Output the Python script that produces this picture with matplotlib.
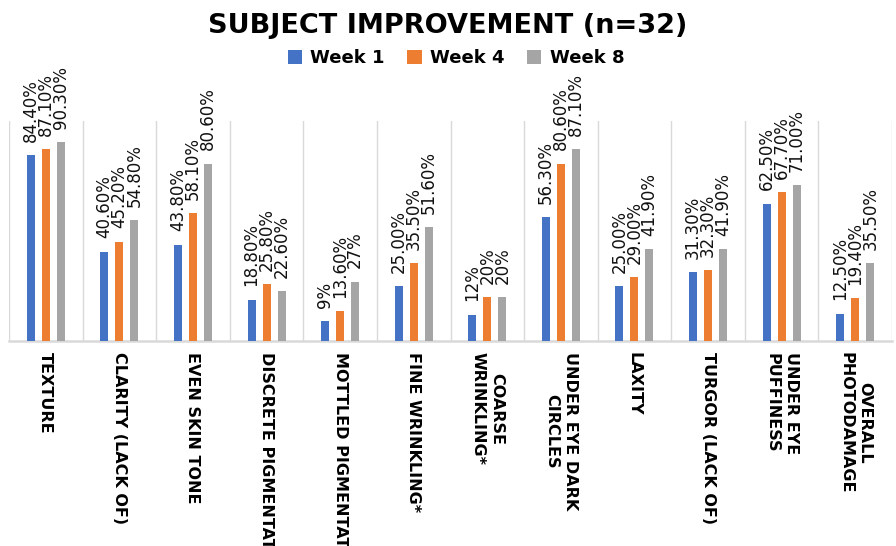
import numpy as np
import matplotlib.pyplot as plt

categories = [
    "TEXTURE", "CLARITY (LACK OF)", "EVEN SKIN TONE", "DISCRETE PIGMENTATION",
    "MOTTLED PIGMENTATION", "FINE WRINKLING*", "COARSE\nWRINKLING*",
    "UNDER EYE DARK\nCIRCLES", "LAXITY", "TURGOR (LACK OF)",
    "UNDER EYE\nPUFFINESS", "OVERALL\nPHOTODAMAGE",
]
week1 = [84.4, 40.6, 43.8, 18.8, 9, 25.0, 12, 56.3, 25.0, 31.3, 62.5, 12.5]
week4 = [87.1, 45.2, 58.1, 25.8, 13.6, 35.5, 20, 80.6, 29.0, 32.3, 67.7, 19.4]
week8 = [90.3, 54.8, 80.6, 22.6, 27, 51.6, 20, 87.1, 41.9, 41.9, 71.0, 35.5]
week1_lbl = ["84.40%", "40.60%", "43.80%", "18.80%", "9%", "25.00%", "12%",
             "56.30%", "25.00%", "31.30%", "62.50%", "12.50%"]
week4_lbl = ["87.10%", "45.20%", "58.10%", "25.80%", "13.60%", "35.50%", "20%",
             "80.60%", "29.00%", "32.30%", "67.70%", "19.40%"]
week8_lbl = ["90.30%", "54.80%", "80.60%", "22.60%", "27%", "51.60%", "20%",
             "87.10%", "41.90%", "41.90%", "71.00%", "35.50%"]
series = ["Week 1", "Week 4", "Week 8"]
colors = ["#4472C4", "#ED7D31", "#A5A5A5"]

fig = plt.figure(figsize=(8.96, 5.46), dpi=100)
ax = fig.add_axes([9 / 896, 1 - 341 / 546, 883 / 896, 220 / 546])

x = np.arange(len(categories))
w = 0.108
step = 0.204
bars = []
for i, (vals, lbls, c, name) in enumerate(zip([week1, week4, week8],
                                               [week1_lbl, week4_lbl, week8_lbl],
                                               colors, series)):
    b = ax.bar(x + (i - 1) * step, vals, width=w, color=c, label=name, zorder=3)
    bars.append(b)
    for rect, t in zip(b, lbls):
        ax.annotate(t, (rect.get_x() + rect.get_width() / 2, rect.get_height()),
                    xytext=(0, 9.5), textcoords="offset points",
                    rotation=90, ha="center", va="bottom", fontsize=12,
                    color="#111111", annotation_clip=False)

ax.set_xlim(-0.5, len(categories) - 0.5)
ax.set_ylim(0, 100)
ax.set_yticks([])
ax.set_xticks(x)
ax.set_xticklabels(categories, rotation=270, fontsize=11.5, fontweight="bold",
                   linespacing=1.35, multialignment="center", va="top")
ax.tick_params(axis="x", length=0, pad=8)
ax.set_xticks(np.arange(len(categories) + 1) - 0.5, minor=True)
ax.tick_params(axis="x", which="minor", length=0)
ax.grid(which="minor", axis="x", color="#D9D9D9", lw=1, zorder=0)
for s in ["left", "right", "top"]:
    ax.spines[s].set_visible(False)
ax.spines["bottom"].set_color("#D9D9D9")
ax.spines["bottom"].set_linewidth(1.8)

fig.text(0.5, 1 - 26 / 546, "SUBJECT IMPROVEMENT (n=32)", ha="center",
         va="center", fontsize=19.5, fontweight="bold")
fig.legend(handles=bars, labels=series, loc="center",
           bbox_to_anchor=(456 / 896, 1 - 58 / 546), ncol=3, frameon=False,
           prop={"weight": "bold", "size": 13}, handlelength=0.8,
           handleheight=0.8, handletextpad=0.45, columnspacing=1.25)

fig.savefig("out.png", dpi=100)
